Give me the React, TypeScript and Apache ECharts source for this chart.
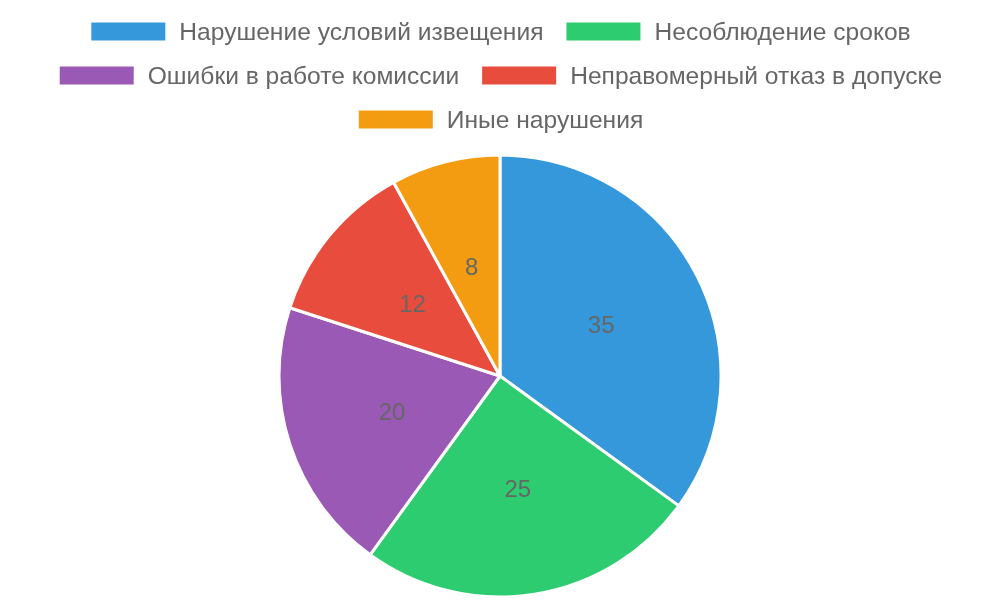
import React, { useEffect, useRef } from 'react';
import * as echarts from 'echarts';

const categories = [
  'Нарушение условий извещения',
  'Несоблюдение сроков',
  'Ошибки в работе комиссии',
  'Неправомерный отказ в допуске',
  'Иные нарушения',
];
const values = [35, 25, 20, 12, 8];
const colors = ['#3498db', '#2ecc71', '#9b59b6', '#e74c3c', '#f39c12'];
const legendRows = [[0, 1], [2, 3], [4]];

export default function App() {
  const ref = useRef<HTMLDivElement | null>(null);

  useEffect(() => {
    if (!ref.current) return undefined;
    const chart = echarts.init(ref.current, undefined, { renderer: 'svg' });
    const font = '"Liberation Sans", Arial, Helvetica, sans-serif';

    chart.setOption({
      animation: false,
      color: colors,
      legend: legendRows.map((row, i) => ({
        data: row.map(idx => categories[idx]),
        top: 19 + i * 44,
        left: 'center',
        padding: 0,
        itemWidth: 76,
        itemHeight: 20,
        itemGap: 21,
        icon: 'rect',
        selectedMode: false,
        textStyle: {
          color: '#666',
          fontSize: 24.6,
          fontFamily: font,
          padding: [0, 0, 0, 8],
          lineHeight: 24,
        },
      })),
      series: [
        {
          type: 'pie',
          center: [500, 376],
          radius: 221,
          startAngle: 90,
          clockwise: true,
          data: categories.map((name, i) => ({ name, value: values[i] })),
          itemStyle: { borderColor: '#fff', borderWidth: 3 },
          label: {
            show: true,
            position: 'inside',
            formatter: '{c}',
            color: '#666',
            fontSize: 24,
            fontFamily: font,
          },
          labelLine: { show: false },
          emphasis: { disabled: true },
        },
      ],
    });

    return () => {
      chart.dispose();
    };
  }, []);

  return (
    <div
      ref={ref}
      style={{ position: 'fixed', left: 0, top: 0, width: 1000, height: 600 }}
    />
  );
}
